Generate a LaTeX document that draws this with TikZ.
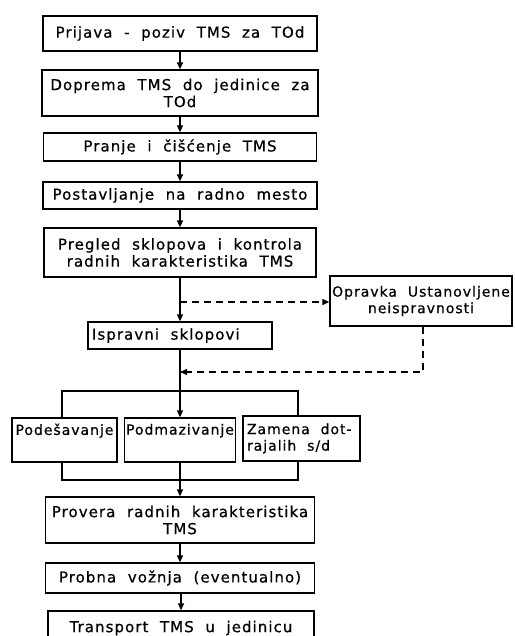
\documentclass[tikz,border=0pt]{standalone}
\usepackage{fontspec}
\setmainfont{DejaVu Sans}[LetterSpace=7, WordSpace=2, FakeBold=0.6]
\usetikzlibrary{arrows.meta}
\begin{document}
\begin{tikzpicture}[x=1pt,y=-1pt,
  box/.style={draw, line width=1.3pt, inner sep=1pt, align=center,
    font=\fontsize{15}{17}\selectfont},
  small/.style={font=\fontsize{14}{16.5}\selectfont},
  link/.style={line width=1.3pt},
  flow/.style={link, -{Triangle[length=7pt,width=6pt]}},
  dashflow/.style={line width=1.1pt, dash pattern=on 7pt off 5pt,
    -{Triangle[length=7pt,width=6pt]}}]
\useasboundingbox (0,0) rectangle (514,636);

% main column
\node[box, minimum width=274pt, minimum height=35pt] (b1) at (180,33.5)
  {Prijava - poziv TMS za TOd};
\node[box, minimum width=276pt, minimum height=46pt] (b2) at (180,93)
  {Doprema TMS do jedinice za\\TOd};
\node[box, minimum width=273pt, minimum height=28pt] (b3) at (180,147)
  {Pranje i čišćenje TMS};
\node[box, minimum width=274pt, minimum height=27pt] (b4) at (180,195.5)
  {Postavljanje na radno mesto};
\node[box, minimum width=272pt, minimum height=49pt] (b5) at (180,252.5)
  {Pregled sklopova i kontrola\\radnih karakteristika TMS};
\node[box, small, minimum width=182pt, minimum height=50pt] (b6) at (421,301)
  {Opravka Ustanovljene\\neispravnosti};
\node[box, minimum width=184pt, minimum height=27pt, text width=176pt,
  align=flush left, inner sep=4pt] (b7) at (180,335.5) {Ispravni sklopovi};

% parallel tasks
\node[box, small, minimum width=105pt, minimum height=44pt] (b8) at (64.5,440)
  {Podešavanje\\\strut};
\node[box, small, minimum width=111pt, minimum height=44pt] (b9) at (180,440)
  {Podmazivanje\\\strut};
\node[box, small, minimum width=117pt, minimum height=45pt, text width=109pt,
  align=flush left, inner sep=4pt] (b10) at (301.5,438.5)
  {Zamena dot-\\rajalih s/d};

% final steps
\node[box, minimum width=269pt, minimum height=46pt] (b11) at (180,520)
  {Provera radnih karakteristika\\TMS};
\node[box, minimum width=269pt, minimum height=30pt] (b12) at (180,578)
  {Probna vožnja (eventualno)};
\node[box, minimum width=266pt, minimum height=34pt] (b13) at (181,628)
  {Transport TMS u jedinicu};

% junction points
\coordinate (d1) at (180,302);
\coordinate (d2) at (180,372);
\coordinate (d3) at (423,372);
\coordinate (sp) at (180,391);
\coordinate (spl) at (62,391);
\coordinate (spr) at (298,391);
\coordinate (mg) at (180,480);

\draw[flow] (b1.south) -- (b2.north);
\draw[flow] (b2.south) -- (b3.north);
\draw[flow] (b3.south) -- (b4.north);
\draw[flow] (b4.south) -- (b5.north);
\draw[flow] (b5.south) -- (b7.north);

% repair loop
\draw[dashflow] (d1) -- (d1 -| b6.west);
\draw[dashflow] (d3 |- b6.south) -- (d3) -- (d2);

% split
\draw[link] (b7.south) -- (sp);
\draw[link] (spl |- b8.north) -- (spl) -- (spr) -- (spr |- b10.north);
\draw[flow] (sp) -- (b9.north);

% merge
\draw[link] (spl |- b8.south) -- (spl |- mg) -- (spr |- mg) -- (spr |- b10.south);
\draw[link] (b9.south) -- (mg);
\draw[flow] (mg) -- (b11.north);
\draw[flow] (b11.south) -- (b12.north);
\draw[flow] (b12.south -| b13.north) -- (b13.north);
\end{tikzpicture}
\end{document}
